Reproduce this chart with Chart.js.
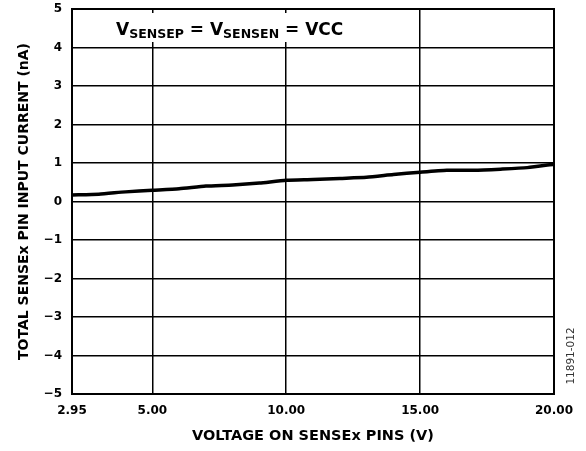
<!DOCTYPE html>
<html>
<head>
<meta charset="utf-8">
<script src="https://cdn.jsdelivr.net/npm/chart.js@4/dist/chart.umd.min.js"></script>
<style>
  html, body { margin: 0; padding: 0; background: #fff; }
  #wrap { width: 586px; height: 451px; }
</style>
</head>
<body>
<div id="wrap"><canvas id="chart" width="586" height="451"></canvas></div>
<script>
// Total SENSEx pin input current vs voltage on SENSEx pins

const voltages = ['2.95', '3.00', '4.00', '5.00', '6.00', '7.00', '8.00', '9.00', '10.00',
  '11.00', '12.00', '13.00', '14.00', '15.00', '16.00', '17.00', '18.00', '19.00', '20.00'];
const currentNa = [0.17, 0.19, 0.25, 0.29, 0.33, 0.40, 0.43, 0.48, 0.55,
  0.57, 0.60, 0.63, 0.70, 0.76, 0.81, 0.81, 0.84, 0.88, 0.97];
const xTickLabels = ['2.95', '5.00', '10.00', '15.00', '20.00'];
const yTicks = [-5, -4, -3, -2, -1, 0, 1, 2, 3, 4, 5];

const FONT = 'DejaVu Sans';

// condition label and figure number
const notePlugin = {
  id: 'notes',
  afterDraw(chart) {
    const { ctx } = chart;
    ctx.save();
    ctx.fillStyle = '#fff';
    ctx.fillRect(108, 13, 246, 29);

    const parts = [
      ['V', false], ['SENSEP', true], [' = V', false], ['SENSEN', true], [' = VCC', false]
    ];
    let x = 116;
    const base = 35;
    ctx.fillStyle = '#000';
    ctx.textBaseline = 'alphabetic';
    parts.forEach(([txt, sub]) => {
      ctx.font = sub ? 'bold 12.5px ' + FONT : 'bold 17px ' + FONT;
      ctx.fillText(txt, x, sub ? base + 3 : base);
      x += ctx.measureText(txt).width;
    });

    ctx.translate(571, 356);
    ctx.rotate(-Math.PI / 2);
    ctx.font = '10.5px ' + FONT;
    ctx.fillStyle = '#333';
    ctx.textAlign = 'center';
    ctx.textBaseline = 'middle';
    ctx.fillText('11891-012', 0, 0);
    ctx.restore();
  }
};

// plot frame around the chart area
const framePlugin = {
  id: 'frame',
  afterDraw(chart) {
    const { ctx, chartArea: a } = chart;
    ctx.save();
    ctx.strokeStyle = '#000';
    ctx.lineWidth = 2;
    ctx.strokeRect(a.left, a.top, a.right - a.left, a.bottom - a.top);
    ctx.restore();
  }
};

new Chart(document.getElementById('chart'), {
  type: 'line',
  data: {
    labels: voltages,
    datasets: [{
      data: currentNa,
      borderColor: '#000',
      borderWidth: 3.5,
      pointRadius: 0,
      tension: 0.2,
      fill: false
    }]
  },
  options: {
    responsive: false,
    animation: false,
    devicePixelRatio: 1,
    layout: { padding: { top: 9, right: 32, left: 0, bottom: 0 } },
    plugins: { legend: { display: false }, tooltip: { enabled: false } },
    scales: {
      x: {
        type: 'category',
        offset: false,
        afterFit(scale) { scale.height = 57; },
        border: { display: false },
        grid: {
          drawTicks: false,
          lineWidth: 1.5,
          color: ctx => {
            const lbl = voltages[ctx.index];
            return xTickLabels.includes(lbl) ? '#000' : 'rgba(0,0,0,0)';
          }
        },
        ticks: {
          autoSkip: false,
          maxRotation: 0,
          padding: 10,
          color: '#000',
          font: { family: FONT, size: 12, weight: 'bold' },
          callback(value, index) {
            const lbl = voltages[index];
            return xTickLabels.includes(lbl) ? lbl : '';
          }
        },
        title: {
          display: true,
          text: 'VOLTAGE ON SENSEx PINS (V)',
          color: '#000',
          font: { family: FONT, size: 14.5, weight: 'bold' },
          padding: { top: 0, bottom: 6 }
        }
      },
      y: {
        min: yTicks[0],
        max: yTicks[yTicks.length - 1],
        afterFit(scale) {
          scale.width = 72;
          scale.paddingTop = 0;
          scale.paddingBottom = 0;
        },
        afterBuildTicks(scale) { scale.ticks = yTicks.map(v => ({ value: v })); },
        border: { display: false },
        grid: { drawTicks: false, lineWidth: 1.5, color: '#000' },
        ticks: {
          padding: 10,
          color: '#000',
          font: { family: FONT, size: 12, weight: 'bold' },
          callback: v => String(v).replace('-', '\u2212')
        },
        title: {
          display: true,
          text: 'TOTAL SENSEx PIN INPUT CURRENT (nA)',
          color: '#000',
          font: { family: FONT, size: 14, weight: 'bold' },
          padding: { top: 16, bottom: 0 }
        }
      }
    }
  },
  plugins: [notePlugin, framePlugin]
});
</script>
</body>
</html>
